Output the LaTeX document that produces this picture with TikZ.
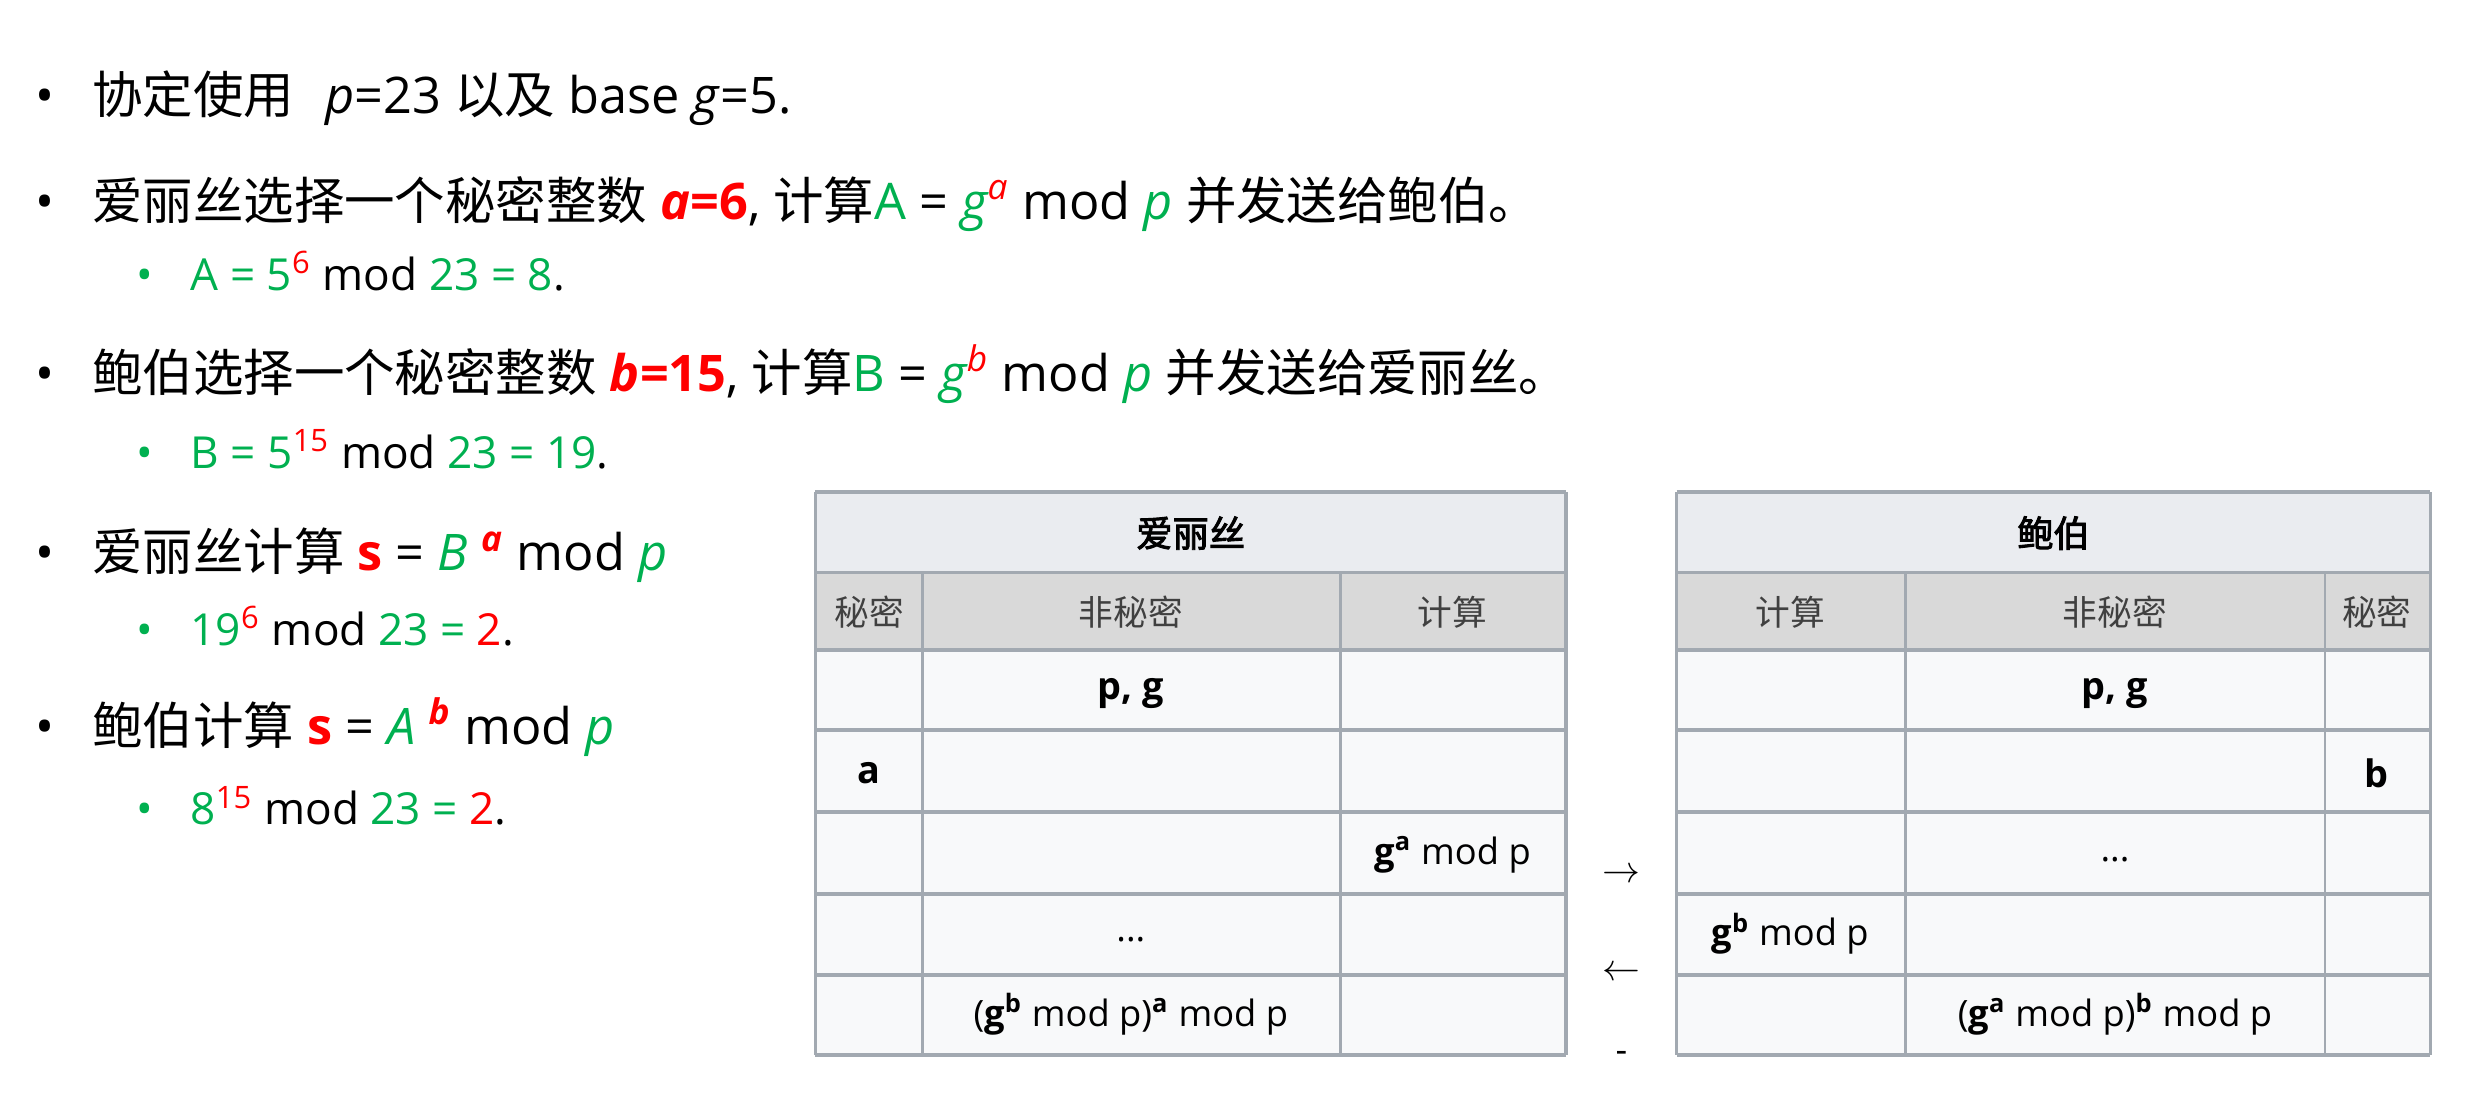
\documentclass[tikz,border=0pt]{standalone}
\usepackage{fontspec}
\setmainfont{Open Sans}
\newfontfamily\cjk{Noto Sans CJK SC}[AutoFakeBold=2.5]
\definecolor{G}{HTML}{00B050}
\definecolor{R}{HTML}{FF0000}
\definecolor{hd}{HTML}{EAECF0}
\definecolor{sh}{HTML}{D9D9D9}
\definecolor{bd}{HTML}{F8F9FA}
\definecolor{ln}{HTML}{A2A9B1}
\newcommand{\gr}[1]{{\color{G}#1}}
\newcommand{\rd}[1]{{\color{R}#1}}
\newcommand{\myup}[1]{\textsuperscript{#1}}
\begin{document}
\begin{tikzpicture}[x=0.5pt,y=-0.5pt,
  main/.style={anchor=base west,inner sep=0pt,font=\fontsize{16}{18}\selectfont},
  sub/.style={anchor=base west,inner sep=0pt,font=\fontsize{14}{16}\selectfont},
  cell/.style={inner sep=0pt,font=\fontsize{11.5}{13}\selectfont},
  head/.style={inner sep=0pt,font=\cjk\fontsize{11.5}{13}\selectfont\bfseries},
  subh/.style={inner sep=0pt,font=\cjk\fontsize{11}{13}\selectfont,text=black!75}]
\useasboundingbox (0,0) rectangle (1568,697.5);
% bullets
\node[main] (l1) at (22,72) {•\hspace{12pt}{\cjk 协定使用}\hspace{10pt}\textit{p}=23 {\cjk 以及} base \textit{g}=5.};
\node[main] (l2) at (22,139) {•\hspace{12pt}{\cjk 爱丽丝选择一个秘密整数} \rd{\bfseries\itshape a}\rd{\bfseries =6}, {\cjk 计算}\gr{A} = \gr{\itshape g}\myup{\rd{\itshape a}} mod \gr{\itshape p} {\cjk 并发送给鲍伯。}};
\node[sub] (s2) at (86,184) {\gr{•}\hspace{12pt}\gr{A = 5}\myup{\rd{6}} mod \gr{23 = 8}.};
\node[main] (l3) at (22,248) {•\hspace{12pt}{\cjk 鲍伯选择一个秘密整数} \rd{\bfseries\itshape b}\rd{\bfseries =15}, {\cjk 计算}\gr{B} = \gr{\itshape g}\myup{\rd{\itshape b}} mod \gr{\itshape p} {\cjk 并发送给爱丽丝。}};
\node[sub] (s3) at (86,297) {\gr{•}\hspace{12pt}\gr{B = 5}\myup{\rd{15}} mod \gr{23 = 19}.};
\node[main] (l4) at (22,362) {•\hspace{12pt}{\cjk 爱丽丝计算} \rd{\bfseries s} = \gr{\itshape B} \myup{\rd{\bfseries\itshape a}} mod \gr{\itshape p}};
\node[sub] (s4) at (86,409) {\gr{•}\hspace{12pt}\gr{19}\myup{\rd{6}} mod \gr{23 = }\rd{2}.};
\node[main] (l5) at (22,472) {•\hspace{12pt}{\cjk 鲍伯计算} \rd{\bfseries s} = \gr{\itshape A} \myup{\rd{\bfseries\itshape b}} mod \gr{\itshape p}};
\node[sub] (s5) at (86,523) {\gr{•}\hspace{12pt}\gr{8}\myup{\rd{15}} mod \gr{23 = }\rd{2}.};
% tables
\foreach \L/\R in {517/993,1063/1541}{
  \fill[hd] (\L,312) rectangle (\R,363);
  \fill[sh] (\L,363) rectangle (\R,412);
  \fill[bd] (\L,412) rectangle (\R,669);
  \foreach \y in {312,363,412,463,515,567,618,669} \draw[ln,line width=1.2pt] (\L,\y) -- (\R,\y);
  \draw[ln,line width=1.2pt] (\L,312) -- (\L,669) (\R,312) -- (\R,669);
}
\foreach \x in {585,850,1208,1474} \draw[ln,line width=0.8pt] (\x,363) -- (\x,669);
\node[head] (ha) at (755,338) {爱丽丝};
\node[head] (hb) at (1302,338) {鲍伯};
\node[subh] (a1) at (551,388) {秘密};
\node[subh] (a2) at (717,388) {非秘密};
\node[subh] (a3) at (921,388) {计算};
\node[subh] (b1) at (1135,388) {计算};
\node[subh] (b2) at (1341,388) {非秘密};
\node[subh] (b3) at (1507,388) {秘密};
\node[cell,font=\fontsize{12}{13}\selectfont\bfseries] (pg1) at (717,440) {p, g};
\node[cell,font=\fontsize{12}{13}\selectfont\bfseries] (pg2) at (1341,440) {p, g};
\node[cell,font=\fontsize{12}{13}\selectfont\bfseries] (sa) at (551,490) {a};
\node[cell,font=\fontsize{12}{13}\selectfont\bfseries] (sb) at (1507,490) {b};
\node[cell] (ga) at (921,542) {\textbf{g}\myup{\textbf{a}} mod p};
\node[cell] (d2) at (1341,545) {...};
\node[cell] (gb) at (1135,592) {\textbf{g}\myup{\textbf{b}} mod p};
\node[cell] (d1) at (717,596) {...};
\node[cell] (ka) at (717,643) {(\textbf{g}\myup{\textbf{b}} mod p)\myup{\textbf{a}} mod p};
\node[cell] (kb) at (1341,643) {(\textbf{g}\myup{\textbf{a}} mod p)\myup{\textbf{b}} mod p};
\node[cell,font=\fontsize{13}{13}\selectfont] (r) at (1028,555) {$\rightarrow$};
\node[cell,font=\fontsize{13}{13}\selectfont] (lft) at (1028,617) {$\leftarrow$};
\node[cell] (m) at (1028,670) {-};
\end{tikzpicture}
\end{document}
